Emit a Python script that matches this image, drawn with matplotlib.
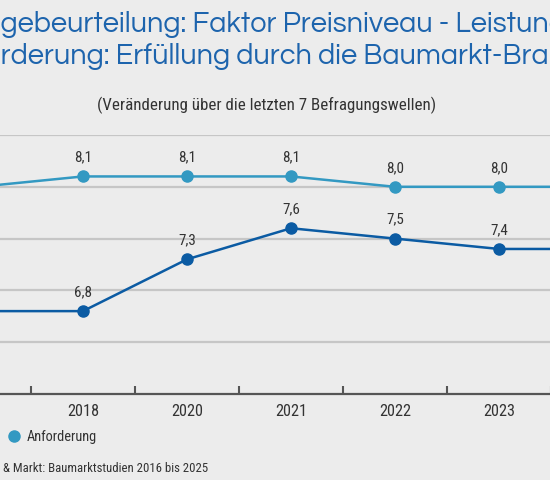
import matplotlib
matplotlib.use('Agg')
import matplotlib.pyplot as plt

# Befragungswellen und Werte
years = ['2016', '2018', '2020', '2021', '2022', '2023', '2025']
anforderung = [8.0, 8.1, 8.1, 8.1, 8.0, 8.0, 8.0]
leistung = [6.8, 6.8, 7.3, 7.6, 7.5, 7.4, 7.4]

title_1 = 'Lagebeurteilung: Faktor Preisniveau - Leistung'
title_2 = 'Anforderung: Erfüllung durch die Baumarkt-Branche'
subtitle = '(Veränderung über die letzten 7 Befragungswellen)'
source = '& Markt: Baumarktstudien 2016 bis 2025'

bg = '#ececec'
c_anf = '#3399c2'
c_lei = '#0b5ba3'
c_title = '#1d64ad'
c_text = '#333333'

plt.rcParams['font.family'] = ['Roboto Condensed', 'DejaVu Sans']

W, H = 550, 480
fig = plt.figure(figsize=(W / 100, H / 100), dpi=100, facecolor=bg)
r = fig.canvas.get_renderer()


def text_width(s, **kw):
    t = fig.text(0, 0, s, **kw)
    w = t.get_window_extent(r).width
    t.remove()
    return w


def fit_size(s, target, **kw):
    # a few passes, hinting makes width not quite linear in size
    size = 10.0
    for _ in range(4):
        size = size * target / text_width(s, size=size, **kw)
    return size


# axes wider than the figure, the picture is a crop
ax = fig.add_axes([-73 / W, 86 / H, 728 / W, 259 / H])
ax.set_facecolor(bg)
x = list(range(len(years)))
ax.set_xlim(-0.5, len(years) - 0.5)
ax.set_ylim(6.0, 8.5)

ax.set_yticks([6.5, 7.0, 7.5, 8.0, 8.5])
ax.yaxis.grid(True, color='#c6c6c6', lw=1.6)
ax.tick_params(axis='y', length=0, labelleft=False)
ax.set_axisbelow(True)

ax.set_xticks(x)
ax.set_xticklabels(years, fontsize=fit_size('2018', 32), color=c_text)
ax.set_xticks([i + 0.5 for i in x[:-1]], minor=True)
ax.tick_params(axis='x', which='major', length=0, pad=7)
ax.tick_params(axis='x', which='minor', direction='in', length=6, width=1.5, color='#555555')

for s in ['top', 'right', 'left']:
    ax.spines[s].set_visible(False)
ax.spines['bottom'].set_color('#555555')
ax.spines['bottom'].set_linewidth(1.6)

ax.plot(x, anforderung, color=c_anf, lw=1.8, marker='o', ms=8, label='Anforderung', clip_on=False)
ax.plot(x, leistung, color=c_lei, lw=1.8, marker='o', ms=8, label='Leistung', clip_on=False)

lab_size = fit_size('8,1', 18)
for vals in (anforderung, leistung):
    for i, v in zip(x, vals):
        ax.annotate(f'{v:.1f}'.replace('.', ','), (i, v), xytext=(0, 8.5),
                    textcoords='offset points', ha='center', va='bottom',
                    fontsize=lab_size, color=c_text)

# title, sized so the visible part fills the crop
tfont = dict(family=['Questrial', 'DejaVu Sans'])
vis_1 = 'gebeurteilung: Faktor Preisniveau - Leistun'
size = fit_size(vis_1, 548, **tfont)
off_1 = text_width('Lag', size=size, **tfont) - text_width('g', size=size, **tfont)
fig.text(-off_1 / W, 1 - 31.5 / H, title_1, size=size, color=c_title,
         ha='left', va='baseline', **tfont)
off_2 = text_width('Anfor', size=size, **tfont) - text_width('r', size=size, **tfont)
fig.text((1 - off_2) / W, 1 - 64 / H, title_2, size=size, color=c_title,
         ha='left', va='baseline', **tfont)

fig.text(266.5 / W, 1 - 110 / H, subtitle, fontsize=fit_size(subtitle, 337), color=c_text,
         ha='center', va='baseline')

ax.legend(handles=[ax.lines[0]], loc='center left', bbox_to_anchor=(14 / W, 1 - 437 / H),
          bbox_transform=fig.transFigure, frameon=False,
          fontsize=fit_size('Anforderung', 70),
          handlelength=0, handletextpad=0.9, borderpad=0, borderaxespad=0,
          labelcolor=c_text)

fig.text(3 / W, 1 - 468 / H, source, fontsize=fit_size(source, 206), color=c_text,
         ha='left', va='center')

fig.savefig('out.png', dpi=100, facecolor=bg)
